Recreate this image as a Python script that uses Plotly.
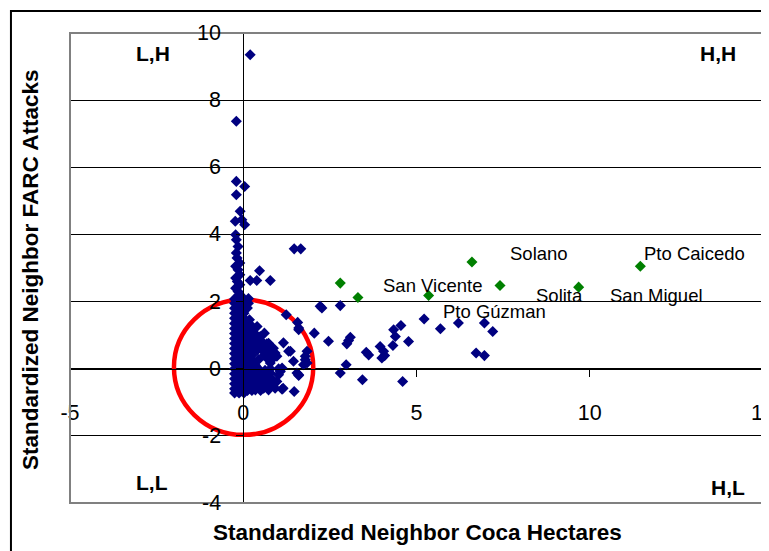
import plotly.graph_objects as go

# ---------------- data ----------------
# high outliers near x=0
upper_x = [0.2, -0.2, -0.2, 0.04, -0.2, -0.09, -0.23, -0.04, 0.04,
           -0.22, -0.2, -0.15, -0.2, -0.18, -0.1, -0.22, -0.15, -0.1, -0.22, -0.17, -0.1, -0.22, -0.15, -0.1]
upper_y = [9.35, 7.37, 5.58, 5.43, 5.18, 4.69, 4.39, 4.44, 4.29,
           3.99, 3.84, 3.64, 3.45, 3.30, 3.15, 3.05, 2.95, 2.80, 2.70, 2.60, 2.50, 2.40, 2.30, 2.20]

# dense column around x = 0
core_x = [-0.25, -0.12, 0.02, -0.25, -0.12, 0.02, -0.25, -0.12, 0.02, -0.25, -0.12, 0.02,
          -0.25, -0.12, 0.02, -0.25, -0.12, 0.02, -0.25, -0.12, 0.02, -0.25, -0.12, 0.02,
          -0.25, -0.12, 0.02, -0.25, -0.12, 0.02, -0.25, -0.12, 0.02, -0.25, -0.12, 0.02,
          -0.25, -0.12, 0.02, -0.25, -0.12, 0.02, -0.25, -0.12, 0.02, -0.25, -0.12, 0.02,
          -0.25, -0.12, 0.02, -0.25, -0.12, 0.02, -0.25, -0.12, 0.02, -0.25, -0.12, 0.02]
core_y = [-0.72, -0.72, -0.72, -0.6, -0.6, -0.6, -0.45, -0.45, -0.45, -0.3, -0.3, -0.3,
          -0.15, -0.15, -0.15, 0.0, 0.0, 0.0, 0.15, 0.15, 0.15, 0.3, 0.3, 0.3,
          0.45, 0.45, 0.45, 0.6, 0.6, 0.6, 0.75, 0.75, 0.75, 0.9, 0.9, 0.9,
          1.05, 1.05, 1.05, 1.2, 1.2, 1.2, 1.35, 1.35, 1.35, 1.5, 1.5, 1.5,
          1.65, 1.65, 1.65, 1.8, 1.8, 1.8, 1.95, 1.95, 1.95, 2.08, 2.08, 2.08]

# wedge just right of the column
wedge_x = [0.12, 0.22, 0.12, 0.25, 0.12, 0.25, 0.38, 0.12, 0.25, 0.4, 0.5,
           0.12, 0.25, 0.4, 0.55, 0.12, 0.25, 0.4, 0.55, 0.65, 0.12, 0.25, 0.6, 0.72,
           0.12, 0.22, 0.12, 0.25, 0.35, 0.12, 0.25, 0.12, 0.25, 0.4,
           0.12, 0.25, 0.4, 0.65, 0.12, 0.25, 0.55, 0.7, 0.85, 0.12, 0.25, 0.5]
wedge_y = [1.3, 1.3, 1.15, 1.15, 1.0, 1.0, 1.0, 0.85, 0.85, 0.85, 0.85,
           0.7, 0.7, 0.7, 0.7, 0.55, 0.55, 0.55, 0.55, 0.55, 0.4, 0.4, 0.4, 0.4,
           0.25, 0.25, 0.1, 0.1, 0.1, -0.05, -0.05, -0.2, -0.2, -0.2,
           -0.35, -0.35, -0.35, -0.35, -0.5, -0.5, -0.5, -0.5, -0.5, -0.65, -0.65, -0.65]

# scattered municipalities
spread_x = [0.47, 0.2, 0.39, 0.78, 1.47, 1.66, 0.15, 0.15, 0.12,
            1.24, 1.57, 1.60, 1.60, 2.05, 2.46, 2.80, 2.27, 2.22, 1.16, 1.31, 1.45,
            0.61, 0.18, 0.40, 0.49, 0.68, 0.73, 0.92, 0.97, 0.87, 1.84, 1.79, 1.84, 1.79, 1.74,
            1.55, 1.07, 1.02, 0.78, 0.68, 0.49, 0.78, 0.54, 0.44, 0.35, 1.12, 1.47,
            0.25, 0.73, 0.87, 0.78, 1.36, 0.44, 0.73, 0.78, 0.44, 0.63, 0.78, 1.02, 1.12,
            0.54, 0.83, 0.97, 1.60, 0.44, 0.59, 0.73, 0.92, 1.15, 1.60,
            3.09, 3.04, 2.99, 3.55, 3.62, 3.95, 4.05, 4.00, 4.08, 4.34, 4.39, 4.32,
            4.55, 4.77, 5.22, 5.69, 6.21, 6.96, 7.20, 6.72, 6.96, 2.97, 2.80, 3.44, 4.60]
spread_y = [2.92, 2.63, 2.63, 2.63, 3.57, 3.57, 2.09, 1.95, 1.81,
            1.61, 1.38, 1.21, 1.16, 1.06, 0.82, 1.88, 1.81, 1.86, 0.77, 0.52, 0.22,
            1.06, 1.46, 1.26, 0.96, 0.74, 0.66, 0.47, 0.37, 0.32, 0.52, 0.37, 0.17, 0.27, 0.12,
            -0.13, -0.08, -0.18, -0.13, -0.23, -0.13, -0.41, -0.38, -0.53, -0.63, -0.61, -0.68,
            0.27, 0.76, 0.61, 0.56, 0.52, 0.27, 0.27, 0.17, 0.0, -0.05, 0.0, 0.0, 0.02,
            -0.28, -0.31, -0.38, -0.18, -0.48, -0.58, -0.63, -0.58, -0.58, -0.20,
            0.94, 0.84, 0.74, 0.49, 0.41, 0.66, 0.52, 0.32, 0.39, 1.16, 0.96, 0.69,
            1.29, 0.81, 1.48, 1.19, 1.36, 1.36, 1.11, 0.47, 0.39, 0.12, -0.13, -0.33, -0.38]

# highlighted municipalities (green)
green_x = [2.80, 3.31, 5.35, 6.60, 7.41, 9.68, 11.46]
green_y = [2.55, 2.12, 2.18, 3.18, 2.48, 2.43, 3.05]

label_text = ["San Vicente", "Pto Gúzman", "Solano", "Solita", "San Miguel", "Pto Caicedo"]
label_x = [5.45, 7.24, 8.54, 9.12, 11.92, 13.02]
label_y = [2.47, 1.70, 3.43, 2.17, 2.17, 3.43]

quad_text = ["L,H", "H,H", "L,L", "H,L"]
quad_x = [-2.61, 13.71, -2.63, 14.0]
quad_y = [9.38, 9.38, -3.40, -3.55]

x_ticks = [-5, 0, 5, 10, 15]
x_ticktext = ["-5", "0", "5", "10", "15"]
y_ticks = [-4, -2, 0, 2, 4, 6, 8, 10]
y_ticktext = ["-4", "-2", "0", "2", "4", "6", "8", "10"]

FONT = "Arial, 'Liberation Sans', sans-serif"
NAVY = "#000080"
GREEN = "#008000"

fig = go.Figure()
blue_x = upper_x + core_x + wedge_x + spread_x
blue_y = upper_y + core_y + wedge_y + spread_y
fig.add_trace(go.Scatter(x=blue_x, y=blue_y, mode="markers",
                         marker=dict(symbol="diamond", size=8.5, color=NAVY, line=dict(width=0)),
                         showlegend=False, hoverinfo="x+y"))
fig.add_trace(go.Scatter(x=green_x, y=green_y, mode="markers",
                         marker=dict(symbol="diamond", size=8.5, color=GREEN, line=dict(width=0)),
                         showlegend=False, hoverinfo="x+y"))

for t, x, y in zip(label_text, label_x, label_y):
    fig.add_annotation(x=x, y=y, xref="x", yref="y", text=t, showarrow=False,
                       font=dict(family=FONT, size=18.5, color="black"))
for t, x, y in zip(quad_text, quad_x, quad_y):
    fig.add_annotation(x=x, y=y, xref="x", yref="y", text="<b>" + t + "</b>", showarrow=False,
                       font=dict(family=FONT, size=21, color="black"))

# y tick labels sit left of the y axis (which crosses at x = 0)
for t, v in zip(y_ticktext, y_ticks):
    fig.add_annotation(x=0, y=v, xref="x", yref="y", text=t, showarrow=False,
                       xanchor="right", yanchor="middle", xshift=-20,
                       font=dict(family=FONT, size=21.5, color="black"))

fig.add_annotation(x=-0.0577, y=0.4957, xref="paper", yref="paper", textangle=-90,
                   xanchor="center", yanchor="middle",
                   text="<b>Standardized Neighbor FARC Attacks</b>", showarrow=False,
                   font=dict(family=FONT, size=22.5, color="black"))
fig.add_annotation(x=0.502, y=-0.0638, xref="paper", yref="paper",
                   xanchor="center", yanchor="middle",
                   text="<b>Standardized Neighbor Coca Hectares</b>", showarrow=False,
                   font=dict(family=FONT, size=22.5, color="black"))

# red circle around the origin
fig.add_shape(type="circle", xref="x", yref="y", x0=-2.0, x1=2.02, y0=-1.97, y1=2.06,
              line=dict(color="#FF0000", width=4.5), layer="between")
# plot-area border
fig.add_shape(type="rect", xref="paper", yref="paper", x0=0, x1=1, y0=0, y1=1,
              line=dict(color="#808080", width=2), layer="above")
# chart-area border
fig.add_shape(type="rect", xref="paper", yref="paper", x0=-0.0852, x1=1.1, y0=-0.2, y1=1.0468,
              line=dict(color="black", width=2), layer="above")

fig.update_xaxes(range=[-5, 15], tickvals=x_ticks, ticktext=x_ticktext,
                 anchor="free", position=4 / 14,
                 showline=True, linecolor="black", linewidth=1,
                 ticks="outside", ticklen=7, tickcolor="black", tickwidth=1,
                 showgrid=False, zeroline=False, automargin=False,
                 ticklabelstandoff=17, ticklabeloverflow="allow",
                 tickfont=dict(family=FONT, size=21.5, color="black"))
fig.update_yaxes(range=[-4, 10], tickvals=y_ticks, anchor="free", position=0.25,
                 showline=True, linecolor="black", linewidth=1,
                 ticks="outside", ticklen=7, tickcolor="black", tickwidth=1,
                 showgrid=True, gridcolor="black", gridwidth=1,
                 zeroline=False, automargin=False, showticklabels=False)

# page body has an 8px margin, so the figure is 8px smaller than the window
fig.update_layout(width=761, height=543,
                  margin=dict(l=62, r=6, t=25, b=48),
                  paper_bgcolor="white", plot_bgcolor="white",
                  template="none", showlegend=False)

fig.write_html("out.html")
